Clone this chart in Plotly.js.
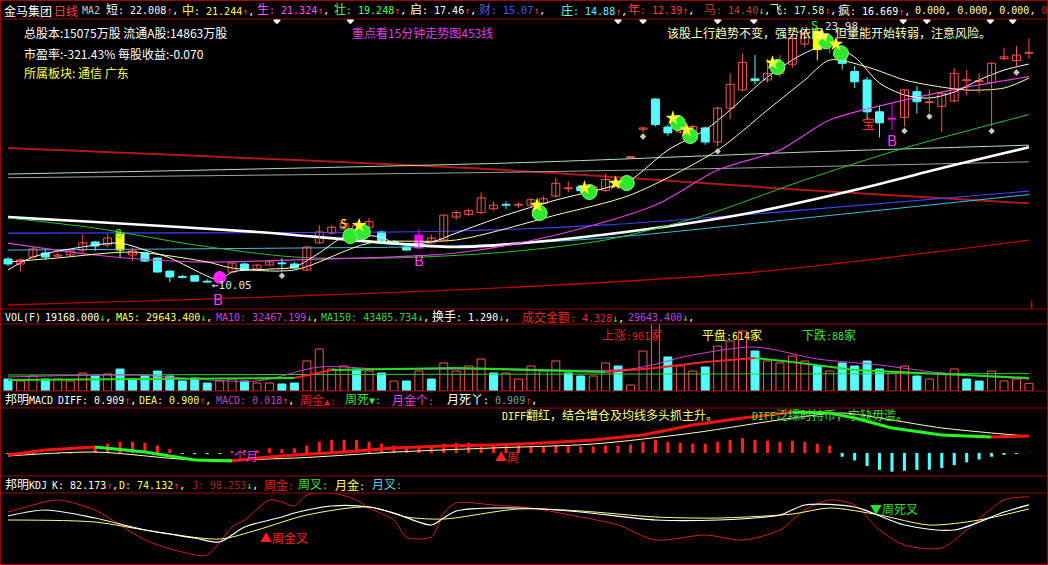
<!DOCTYPE html>
<html><head><meta charset="utf-8">
<script src="https://cdn.plot.ly/plotly-3.0.1.min.js"></script>
<style>html,body{margin:0;padding:0;background:#000;overflow:hidden}#chart{width:1048px;height:565px}</style>
</head><body><div id="chart"></div>
<script>
// ================= DATA =================
const opens  = [11.36,11.09,11.47,11.69,11.52,11.58,11.85,12.29,12.13,12.78,11.58,11.69,11.41,10.70,10.40,10.45,10.15,10.15,10.65,11.09,10.82,11.03,11.15,11.09,10.76,12.24,12.78,13.00,12.90,13.10,12.84,12.30,12.02,11.96,12.24,12.40,13.65,13.80,13.90,14.10,14.35,14.30,14.30,14.40,14.80,15.20,15.30,15.00,15.10,15.30,16.90,18.45,20.10,18.57,18.30,18.20,18.52,17.75,19.60,20.60,21.20,21.14,21.50,22.00,23.10,23.80,23.00,22.80,21.60,21.14,19.40,19.05,19.10,20.50,19.90,19.70,20.00,21.10,21.05,21.00,22.30,22.20,22.60];
const highs  = [11.47,11.40,12.00,11.85,11.70,11.90,12.70,12.35,12.70,12.90,12.00,11.75,11.45,10.75,10.50,10.50,10.25,10.60,11.20,11.15,11.10,11.30,11.40,11.20,12.05,13.20,13.20,13.50,13.40,13.60,12.90,12.40,12.05,13.00,12.70,13.80,14.00,14.10,15.00,14.50,14.50,14.45,14.70,14.80,15.80,15.60,15.40,15.40,16.00,15.70,16.90,18.59,20.15,18.70,18.70,18.70,18.60,19.70,21.50,22.60,22.50,22.30,22.50,23.60,23.90,23.98,23.60,23.00,21.90,21.30,19.70,19.90,20.60,20.80,20.60,20.50,21.80,21.70,21.50,22.10,22.90,23.00,23.40];
const lows   = [10.98,10.70,11.40,11.30,11.40,11.50,11.70,11.80,12.00,11.47,11.25,11.20,10.60,10.10,10.30,10.10,10.05,10.10,10.60,10.70,10.75,11.00,10.70,10.80,10.70,12.20,12.70,12.90,12.80,13.00,12.20,12.20,11.80,11.90,12.20,12.30,13.50,13.70,13.80,14.00,14.10,14.15,14.20,14.30,14.70,15.00,15.00,14.90,15.00,15.20,16.90,18.30,18.60,18.10,18.20,18.10,17.60,17.50,19.00,20.50,20.90,21.00,21.30,21.80,22.90,22.20,22.60,21.70,20.70,19.00,18.00,18.40,18.60,19.30,19.40,18.30,19.90,20.30,20.40,18.60,22.20,21.80,22.30];
const closes = [11.09,11.31,11.91,11.47,11.58,11.80,12.24,12.07,12.51,11.85,11.80,11.25,10.65,10.38,10.36,10.15,10.10,10.55,11.14,10.76,11.03,11.20,11.10,10.87,12.02,12.84,13.10,13.30,13.20,13.40,12.24,12.27,11.85,12.67,12.51,13.76,13.90,14.00,14.70,14.30,14.30,14.32,14.60,14.65,15.50,15.25,15.10,15.30,15.70,15.36,16.90,18.52,18.70,18.25,18.55,18.60,17.75,19.60,20.90,22.10,21.10,21.50,22.00,23.40,23.70,22.80,23.30,22.05,21.04,19.40,18.80,19.00,20.60,19.95,19.95,20.40,21.50,21.15,21.10,22.05,22.40,22.50,22.65];
const yellowCandles  = [9, 65];
const magentaCandles = [33, 71];

const volumes = [30000,25000,37500,30000,30000,25000,45000,37500,42500,55000,30000,37500,50000,37500,25000,32500,20000,25000,30000,25000,20000,20000,17500,20000,75000,105000,55000,62500,55000,50000,45000,25000,25000,50000,30000,70000,50000,62500,80000,45000,45000,30000,62500,50000,75000,45000,37500,37500,70000,62500,15000,100000,175000,85000,62500,50000,60000,112500,125000,150000,100000,75000,70000,87500,75000,62500,50000,70000,62500,75000,55000,45000,62500,37500,30000,45000,55000,30000,25000,50000,25000,30000,19168];

// main-chart moving averages (index, price)
const maShortX = [0,2,6,9,11,13,16,17,18,21,23,25,27,30,31,34,36,40,44,48,50,53,56,58,61,64,66,68,70,72,74,76,78,80,82];
const maShortY = [10.76,11.47,12.02,12.23,11.85,11.42,10.43,10.21,10.65,10.81,10.92,11.69,12.56,12.56,12.23,12.29,12.78,13.76,14.58,15.24,15.68,17.31,18.41,19.50,21.30,22.61,23.05,22.39,20.97,20.32,20.15,20.48,21.14,21.68,22.01];
const maMidX = [0,4,10,16,18,23,29,36,44,50,57,61,64,66,69,72,74,77,80,82];
const maMidY = [11.20,11.42,11.74,11.20,10.87,10.76,12.23,12.40,13.76,14.86,17.31,19.50,21.14,22.23,21.85,21.14,20.86,20.59,20.70,21.24];
const maLifeX = [0,7,15,23,36,44,52,57,62,66,72,77,82];
const maLifeY = [12.23,11.58,11.20,11.31,11.69,12.67,14.31,16.22,17.31,18.95,20.04,20.75,21.32];
const maStrongX = [0,7,15,23,31,40,48,56,64,72,82];
const maStrongY = [13.60,13.05,12.13,11.47,11.42,11.74,12.40,13.76,15.68,17.42,19.25];
const maStartX = [0,7,20,36,44,52,60,68,76,82];
const maStartY = [13.65,13.38,12.84,12.02,12.40,13.05,13.93,15.13,16.49,17.46];
const maWealthX = [0,36,48,64,82];
const maWealthY = [12.78,12.89,13.22,14.04,15.07];
const maBankerX = [0,23,36,48,64,82];
const maBankerY = [11.85,11.96,12.07,12.51,13.60,14.88];
const maYearX = [0,36,60,82];
const maYearY = [8.85,9.67,10.65,12.39];
const maHorseX = [0,40,64,82];
const maHorseY = [17.42,16.22,15.13,14.40];
const maFlyX = [0,40,64,82];
const maFlyY = [16.00,16.60,17.20,17.58];
const maCrazyX = [0,40,64,82];
const maCrazyY = [15.80,16.10,16.40,16.669];

// volume moving averages
const volMa5X = [0,10,20,25,30,40,50,55,60,65,70,75,82];
const volMa5Y = [35000,40000,25000,60000,55000,55000,55000,90000,110000,80000,65000,45000,29643];
const volMa10X = [0,23,26,36,48,52,56,60,63,68,82];
const volMa10Y = [27500,32500,52500,57500,47500,57500,72500,82500,72500,52500,32467];
const volMa10Red = [0,1,0,0,1,1,1,0,0,0];
const volMa150X = [0,40,82];
const volMa150Y = [40000,42000,43486];

// MACD
const macdBars = [-0.05,-0.04,-0.03,-0.03,-0.02,-0.02,0.05,0.3,0.5,0.6,0.6,0.55,0.4,0.2,-0.05,-0.06,-0.06,-0.05,0.1,0.15,0.15,0.25,0.2,0.25,0.4,0.6,0.7,0.7,0.7,0.6,0.5,0.4,0.3,0.35,0.4,0.5,0.55,0.55,0.5,0.45,0.4,0.4,0.35,0.35,0.4,0.4,0.35,0.35,0.4,0.4,0.45,0.6,0.7,0.6,0.55,0.5,0.5,0.6,0.7,0.8,0.7,0.65,0.6,0.65,0.6,0.5,0.4,-0.2,-0.4,-0.7,-0.9,-1.0,-0.95,-0.9,-0.9,-0.8,-0.65,-0.5,-0.35,-0.2,-0.1,-0.05,0.018];
const diffX = [0,3,7,11,15,18,20,23,27,31,35,39,43,47,51,55,59,63,66,68,71,75,79,82];
const diffY = [-0.11,0.16,0.32,0.05,-0.37,-0.43,-0.27,-0.11,0.05,0.27,0.37,0.43,0.53,0.70,0.96,1.50,1.87,2.19,2.14,1.87,1.34,0.96,0.86,0.909];
const diffRed = [1,1,0,0,0,1,1,1,1,1,1,1,1,1,1,1,1,0,0,0,0,0,1];
const deaX = [0,7,15,23,31,39,47,55,63,67,71,75,79,82];
const deaY = [-0.16,0.05,-0.37,-0.27,0.05,0.27,0.48,1.07,1.87,2.14,1.76,1.34,1.07,0.900];

// KDJ
const kX = [0,3,7,11,15,17,19,22,23,26,29,31,34,35,36,41,46,52,57,62,64,68,72,76,80,82];
const kY = [60,72,56,32,16,8,38,58,66,80,78,66,42,56,70,76,68,52,52,62,82,78,42,32,68,82.173];
const dX = [0,7,11,17,20,24,29,32,35,41,46,52,57,63,66,70,74,78,82];
const dY = [52,48,32,14,32,62,78,58,54,74,70,58,56,64,76,62,42,52,74.132];
const jX = [0,2,4,7,9,11,14,16,18,19,21,22,23,24,26,28,29,31,32,34,35,36,39,42,46,49,52,56,59,62,64,66,68,70,72,75,77,80,82];
const jY = [68,82,92,72,42,12,-12,-18,38,52,92,88,80,102,106,92,76,52,18,18,66,86,82,76,58,42,12,22,12,32,72,92,82,32,2,-4,32,92,98.253];

// signal markers (index, price)
const greenBallX = [27.5,28.5,42.7,46.7,49.7,53.8,54.8,61.8,65.7,66.9];
const greenBallY = [12.62,12.84,13.87,15.02,15.51,18.79,18.08,21.85,23.25,22.60];
const starX = [28.2,42.5,46.3,48.8,53.4,54.5,61.4,65.4,66.5];
const starY = [13.20,14.30,15.25,15.51,19.06,18.41,22.08,23.55,23.10];
const greyMarkX = [22,51,57,72,74,79,81];
const greyMarkY = [10.70,18.30,17.50,18.60,19.40,18.60,21.80];
const topMarkX = [21.6,27.5,49,51,57,59.9,71.9,73.8,78.9,80.7];

// ================= RENDER =================
const W = 1048, H = 565;
const px = x => x / W, py = y => 1 - y / H;
const RED = '#ff5252', CYAN = '#54fcfc', BORDER = '#a00000';
const N = closes.length;
const all = Array.from({length: N}, (_, i) => i);
const special = new Set([...yellowCandles, ...magentaCandles]);
const upIdx = all.filter(i => !special.has(i) && closes[i] >= opens[i]);
const dnIdx = all.filter(i => !special.has(i) && closes[i] < opens[i]);

function wickTrace(sel, color) {
  const x = [], y = [];
  sel.forEach(i => { x.push(i, i, null); y.push(lows[i], highs[i], null); });
  return {type: 'scatter', mode: 'lines', x, y, line: {color, width: 1}, hoverinfo: 'skip', xaxis: 'x', yaxis: 'y'};
}
function bodyTrace(sel, fill, line) {
  return {type: 'bar', x: sel, base: sel.map(i => Math.min(opens[i], closes[i])),
    y: sel.map(i => Math.max(Math.abs(closes[i] - opens[i]), 0.05)), width: 0.64,
    marker: {color: fill, line: {color: line, width: 1}}, hoverinfo: 'skip', xaxis: 'x', yaxis: 'y'};
}
function lineTrace(x, y, color, width, yaxis, shape) {
  return {type: 'scatter', mode: 'lines', x, y, line: {color, width, shape: shape || 'spline', smoothing: 0.8},
    hoverinfo: 'skip', xaxis: 'x', yaxis: yaxis || 'y'};
}

const traces = [];
traces.push(lineTrace(maYearX, maYearY, '#c00000', 1.3));
traces.push(lineTrace(maHorseX, maHorseY, '#b01818', 2));
traces.push(lineTrace(maFlyX, maFlyY, '#b0e0b0', 1));
traces.push(lineTrace(maCrazyX, maCrazyY, '#a0a0a0', 1));
traces.push(lineTrace(maWealthX, maWealthY, '#4040ff', 1.2));
traces.push(lineTrace(maBankerX, maBankerY, '#40c0e0', 1));
traces.push(lineTrace(maStartX, maStartY, '#ffffff', 2.6));
traces.push(lineTrace(maStrongX, maStrongY, '#30c030', 1));
traces.push(lineTrace(maLifeX, maLifeY, '#e040e0', 1.2));
traces.push(lineTrace(maMidX, maMidY, '#ffffa0', 1));
traces.push(lineTrace(maShortX, maShortY, '#ffffff', 1));
traces.push(wickTrace(upIdx, RED));
traces.push(wickTrace(dnIdx, CYAN));
traces.push(wickTrace(yellowCandles, '#ffff00'));
traces.push(wickTrace(magentaCandles, '#ff00ff'));
traces.push(bodyTrace(upIdx, '#000000', RED));
traces.push(bodyTrace(dnIdx, CYAN, CYAN));
traces.push(bodyTrace(yellowCandles, '#ffff00', '#ffff00'));
traces.push(bodyTrace(magentaCandles, '#ff00ff', '#ff00ff'));
traces.push({type:'scatter', mode:'markers', x: greyMarkX, y: greyMarkY.map(v => v - 0.25), marker:{symbol:'diamond', size:5, color:'#c8c8c8'}, hoverinfo:'skip'});
traces.push({type:'scatter', mode:'markers', x: topMarkX, y: topMarkX.map(() => 24.4), marker:{symbol:'diamond', size:6, color:'#ffffff'}, hoverinfo:'skip'});
traces.push({type:'scatter', mode:'markers', x: greenBallX, y: greenBallY, marker:{symbol:'circle', size:15, color:'#2ee82e', line:{color:'#7dff7d', width:1}}, hoverinfo:'skip'});
traces.push({type:'scatter', mode:'markers', x: starX, y: starY, marker:{symbol:'star', size:11, color:'#ffff30'}, hoverinfo:'skip'});
traces.push({type:'scatter', mode:'markers', x: [17], y: [10.35], marker:{symbol:'circle', size:13, color:'#ff20ff'}, hoverinfo:'skip'});

// volume: colour follows close versus previous close
const vUp = all.filter(i => i === 0 ? closes[i] >= opens[i] : closes[i] >= closes[i-1]);
const vDn = all.filter(i => !(i === 0 ? closes[i] >= opens[i] : closes[i] >= closes[i-1]));
traces.push({type:'bar', x: vUp, y: vUp.map(i => volumes[i]), width: 0.64, marker:{color:'#000', line:{color:RED, width:1}}, xaxis:'x', yaxis:'y2', hoverinfo:'skip'});
traces.push({type:'bar', x: vDn, y: vDn.map(i => volumes[i]), width: 0.64, marker:{color:CYAN, line:{color:CYAN, width:1}}, xaxis:'x', yaxis:'y2', hoverinfo:'skip'});
traces.push(lineTrace(volMa150X, volMa150Y, '#30d030', 1, 'y2'));
traces.push(lineTrace(volMa5X, volMa5Y, '#d040d0', 1, 'y2'));
for (let k = 0; k < volMa10X.length - 1; k++) {
  traces.push(lineTrace([volMa10X[k], volMa10X[k+1]], [volMa10Y[k], volMa10Y[k+1]], volMa10Red[k] ? '#ff2020' : '#20e020', 2.2, 'y2', 'linear'));
}

const mPos = all.filter(i => macdBars[i] >= 0), mNeg = all.filter(i => macdBars[i] < 0);
traces.push({type:'bar', x: mPos, y: mPos.map(i => macdBars[i]), width: 0.25, marker:{color:'#ff2020'}, xaxis:'x', yaxis:'y3', hoverinfo:'skip'});
traces.push({type:'bar', x: mNeg, y: mNeg.map(i => macdBars[i]), width: 0.25, marker:{color:CYAN}, xaxis:'x', yaxis:'y3', hoverinfo:'skip'});
traces.push(lineTrace(deaX, deaY, '#ffffc0', 1, 'y3'));
for (let k = 0; k < diffX.length - 1; k++) {
  traces.push(lineTrace([diffX[k], diffX[k+1]], [diffY[k], diffY[k+1]], diffRed[k] ? '#ff1010' : '#20ff20', 3, 'y3', 'linear'));
}
traces.push(lineTrace(jX, jY, '#d02020', 1, 'y4'));
traces.push(lineTrace(dX, dY, '#ffff80', 1, 'y4'));
traces.push(lineTrace(kX, kY, '#ffffff', 1.2, 'y4'));

const ann = [];
function T(x, y, text, color, size, anchor, family) {
  ann.push({xref:'paper', yref:'paper', x: px(x), y: py(y), text, showarrow:false, xanchor: anchor || 'left', yanchor:'middle',
    font:{color, size: size || 12, family: family || 'Noto Sans CJK SC, DejaVu Sans Mono'}});
}
const MONO = 'DejaVu Sans Mono, Noto Sans CJK SC';
const up = '<span style="color:#ff3030">↑</span>', dn = '<span style="color:#30ff30">↓</span>';
function cjk(s) { return s.replace(/([\u3000-\u9fff\uff00-\uffef]+)/g, '<span style="font-size:12px">$1</span>'); }
function G(x, y, label, value, arrow, color) {
  T(x, y, cjk(label) + ': ' + value + (arrow === 1 ? up : dn) + '<span style="color:#ffffff">,</span>', color, 10, 'left', MONO);
}
T(2, 10, '金马集团', '#ffffff', 12);
T(52, 10, '日线', '#ff4040', 12);
T(80, 10, 'MA2', '#c8c8c8', 10, 'left', MONO);
G(104, 10, '短', '22.008', 1, '#ffffff');
G(180, 10, '中', '21.244', 1, '#ffff54');
G(255, 10, '生', '21.324', 1, '#ff54ff');
G(332, 10, '壮', '19.248', 1, '#54ff54');
G(408, 10, '启', '17.46', 1, '#ffffff');
G(477, 10, '财', '15.07', 1, '#5454ff');
G(559, 10, '庄', '14.88', 1, '#54ffff');
G(626, 10, '年', '12.39', 1, '#ff4040');
G(702, 10, '马', '14.40', 0, '#c04040');
G(768, 10, '飞', '17.58', 1, '#c8ffc8');
G(836, 10, '疯', '16.669', 1, '#ffffff');
T(913, 10, '0.000, 0.000, 0.000, <span style="color:#c03030">0.0</span>', '#ffffc0', 10, 'left', MONO);
T(22, 33, '总股本:15075万股 流通A股:14863万股', '#ffffff', 12);
T(22, 53, '市盈率:-321.43% 每股收益:-0.070', '#ffffff', 12);
T(22, 72, '所属板块: 通信 广东', '#ffff54', 12);
T(350, 32, '重点看15分钟走势图453线', '#e040e0', 12);
T(665, 33, '该股上行趋势不变，强势依旧，但量能开始转弱，注意风险。', '#ffffc0', 12);
T(113, 232, 'S', '#40ff40', 12);
T(338, 222, 'S', '#ffff40', 12);
T(809, 25, 'S', '#40ff40', 12);
T(823, 27, '23.98', '#e0e0e0', 11, 'left', MONO);
T(210, 285, '←10.05', '#e0e0e0', 11, 'left', MONO);
T(211, 298, 'B', '#ff40ff', 15);
T(412, 259, 'B', '#ff40ff', 15);
T(885, 139, 'B', '#ff40ff', 15);
T(860, 122, '宝', '#ff3030', 13);
T(1028, 303, 'i', '#ff2020', 11);
T(3, 317, 'VOL(F)', '#ffffff', 10, 'left', MONO);
T(43, 317, '19168.000' + dn + '<span style="color:#fff">,</span>', '#ffffff', 10, 'left', MONO);
T(114, 317, 'MA5: 29643.400' + dn + '<span style="color:#fff">,</span>', '#ffff54', 10, 'left', MONO);
T(214, 317, 'MA10: 32467.199' + dn + '<span style="color:#fff">,</span>', '#d040d0', 10, 'left', MONO);
T(319, 317, 'MA150: 43485.734' + dn + '<span style="color:#fff">,</span>', '#40d040', 10, 'left', MONO);
T(430, 317, cjk('换手') + ': 1.290' + dn + '<span style="color:#fff">,</span>', '#ffffff', 10, 'left', MONO);
T(520, 317, cjk('成交金额') + ': 4.328' + dn + '<span style="color:#fff">,</span>', '#e03030', 10, 'left', MONO);
T(626, 317, '29643.400' + dn + '<span style="color:#fff">,</span>', '#c040e0', 10, 'left', MONO);
T(600, 335, cjk('上涨') + ':901' + cjk('家'), '#e02020', 10, 'left', MONO);
T(700, 335, cjk('平盘') + ':614' + cjk('家'), '#ffff54', 10, 'left', MONO);
T(800, 335, cjk('下跌') + ':88' + cjk('家'), '#40e040', 10, 'left', MONO);
T(3, 400, cjk('邦明') + 'MACD', '#ffffff', 10, 'left', MONO);
T(56, 400, 'DIFF: 0.909' + up + '<span style="color:#fff">,</span>', '#ffffff', 10, 'left', MONO);
T(137, 400, 'DEA: 0.900' + up + '<span style="color:#fff">,</span>', '#ffff54', 10, 'left', MONO);
T(214, 400, 'MACD: 0.018' + up + '<span style="color:#fff">,</span>', '#c040c0', 10, 'left', MONO);
T(298, 400, cjk('周金') + '▲:', '#e02020', 10, 'left', MONO);
T(343, 400, cjk('周死') + '▼:', '#40e040', 10, 'left', MONO);
T(390, 400, cjk('月金个') + ':', '#e040e0', 10, 'left', MONO);
T(445, 400, cjk('月死丫') + ': <span style="color:#80a0a0">0.909</span>' + up + ',', '#ffffff', 10, 'left', MONO);
T(500, 415, cjk('DIFF翻红，结合增仓及均线多头抓主升。'), '#ffff80', 10, 'left', MONO);
T(750, 415, cjk('DIFF泛绿时持币，宁缺毋滥。'), '#40e040', 10, 'left', MONO);
T(232, 455, '个月', '#e040e0', 12);
T(493, 457, '▲周', '#ff2020', 12);
T(3, 485, cjk('邦明') + 'KDJ', '#ffffff', 10, 'left', MONO);
T(50, 485, 'K: 82.173' + up + '<span style="color:#fff">,</span>', '#ffffff', 10, 'left', MONO);
T(117, 485, 'D: 74.132' + up + '<span style="color:#fff">,</span>', '#ffff54', 10, 'left', MONO);
T(190, 485, 'J: 98.253' + dn + '<span style="color:#fff">,</span>', '#b02020', 10, 'left', MONO);
T(262, 485, cjk('周金') + ':', '#e02020', 10, 'left', MONO);
T(296, 485, cjk('周叉') + ':', '#40e040', 10, 'left', MONO);
T(333, 485, cjk('月金') + ':', '#ffff54', 10, 'left', MONO);
T(370, 485, cjk('月叉') + ':', '#60d0d0', 10, 'left', MONO);
T(258, 537, '▲周金叉', '#ff2020', 12);
T(868, 508, '▼周死叉', '#30e030', 12);

const shapes = [];
function hl(y) { shapes.push({type:'line', xref:'paper', yref:'paper', x0:0, x1:1, y0:py(y), y1:py(y), line:{color:BORDER, width:1}}); }
[0.5, 19, 309, 324, 391, 408, 476, 493, 564.5].forEach(hl);
shapes.push({type:'line', xref:'paper', yref:'paper', x0:px(0.5), x1:px(0.5), y0:0, y1:1, line:{color:BORDER, width:1}});
shapes.push({type:'line', xref:'paper', yref:'paper', x0:px(1047.5), x1:px(1047.5), y0:0, y1:1, line:{color:BORDER, width:1}});

const ax = {showgrid:false, zeroline:false, showticklabels:false, showline:false, ticks:'', fixedrange:true};
const layout = {
  width: W, height: H, margin:{l:0, r:0, t:0, b:0}, paper_bgcolor:'#000', plot_bgcolor:'#000',
  showlegend:false, barmode:'overlay', hovermode:false,
  xaxis: Object.assign({range:[-0.643, 83.53]}, ax),
  yaxis: Object.assign({domain:[py(308), py(19)], range:[8.685, 24.47]}, ax),
  yaxis2: Object.assign({domain:[py(391), py(324)], range:[0, 67*2500]}, ax),
  yaxis3: Object.assign({domain:[py(476), py(408)], range:[-1.23, 2.406]}, ax),
  yaxis4: Object.assign({domain:[0, py(493)], range:[-38, 106]}, ax),
  annotations: ann, shapes: shapes
};
Plotly.newPlot('chart', traces, layout, {staticPlot:true, displayModeBar:false});
</script></body></html>
